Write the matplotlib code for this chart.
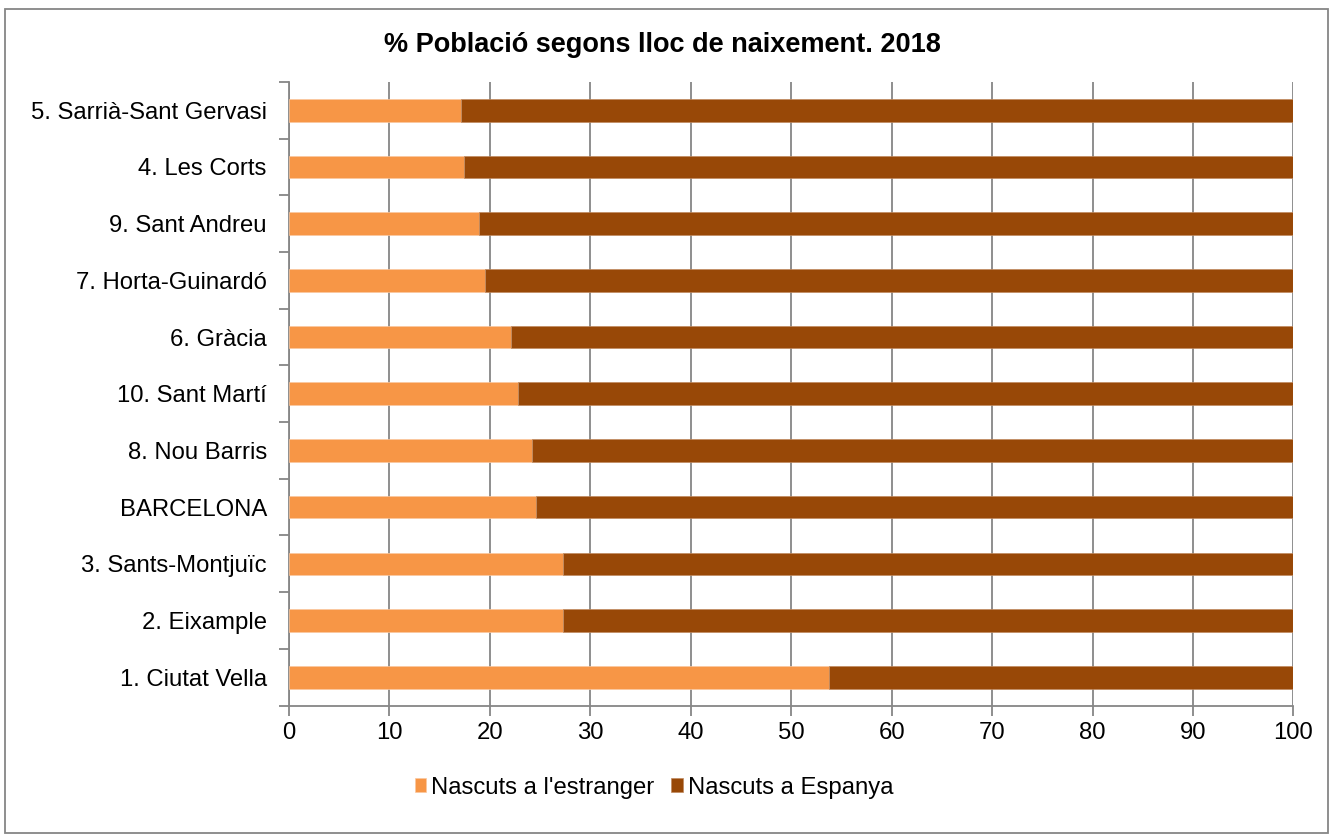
import matplotlib.pyplot as plt
from matplotlib.patches import Rectangle
import numpy as np

plt.rcParams['font.family'] = ['Liberation Sans', 'DejaVu Sans']

# districtes, de baix a dalt
districtes = ['1. Ciutat Vella', '2. Eixample', '3. Sants-Montjuïc', 'BARCELONA',
              '8. Nou Barris', '10. Sant Martí', '6. Gràcia', '7. Horta-Guinardó',
              '9. Sant Andreu', '4. Les Corts', '5. Sarrià-Sant Gervasi']
estranger = [53.8, 27.3, 27.3, 24.6, 24.2, 22.8, 22.1, 19.5, 18.9, 17.4, 17.1]
espanya = [100 - v for v in estranger]

col_estr = '#F79646'
col_esp = '#984807'
gris = '#868686'
mida = 17.2

fig = plt.figure(figsize=(13.32, 8.36), dpi=100)
ax = fig.add_axes([0.217, 0.156, 0.754, 0.746])

y = np.arange(len(districtes))
ax.barh(y, estranger, height=0.4, color=col_estr, label="Nascuts a l'estranger",
        edgecolor='#fbc8a0', linewidth=0.5, zorder=3)
ax.barh(y, espanya, left=estranger, height=0.4, color=col_esp, label='Nascuts a Espanya',
        edgecolor='#c08a60', linewidth=0.5, zorder=3)

ax.set_xlim(0, 100)
ax.set_ylim(-0.5, len(districtes) - 0.5)
ax.set_xticks(range(0, 101, 10))
ax.grid(axis='x', color=gris, linewidth=1.3, zorder=0)

# marques a les fronteres entre categories, etiquetes al centre
ax.set_yticks(np.arange(-0.5, len(districtes), 1))
ax.set_yticklabels([])
ax.set_yticks(y, minor=True)
ax.set_yticklabels(districtes, minor=True)
ax.tick_params(axis='y', which='major', length=7, width=1.3, color=gris, direction='out')
ax.tick_params(axis='y', which='minor', length=0, pad=16, labelsize=mida)
ax.tick_params(axis='x', length=7, width=1.3, color=gris, labelsize=mida, pad=5)

for s in ['top', 'right']:
    ax.spines[s].set_visible(False)
for s in ['left', 'bottom']:
    ax.spines[s].set_color(gris)
    ax.spines[s].set_linewidth(1.3)

fig.text(0.497, 0.946, '% Població segons lloc de naixement. 2018', ha='center', va='center',
         fontsize=19.5, fontweight='bold')

fig.legend(loc='center', bbox_to_anchor=(0.491, 0.058), ncol=2, frameon=False,
           fontsize=mida, handlelength=0.5, handleheight=0.5, handletextpad=0.2,
           columnspacing=0.7)

# vora del gràfic
fig.patches.append(Rectangle((0.004, 0.004), 0.993, 0.985, transform=fig.transFigure,
                             fill=False, edgecolor=gris, linewidth=1.3))

fig.savefig('out.png', dpi=100)
